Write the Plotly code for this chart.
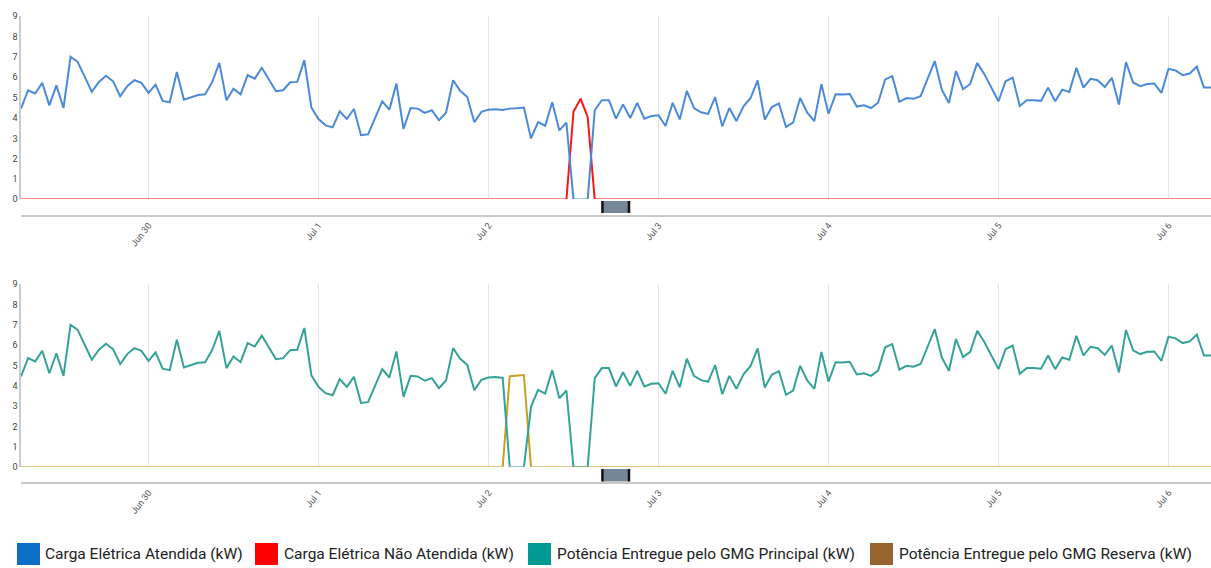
import pandas as pd
import plotly.graph_objects as go

# ---------------- DATA ----------------
inicio = "2024-06-29 06:00"
n_pontos = 169
horas = pd.date_range(inicio, periods=n_pontos, freq="h")

carga_atendida = [
    4.46, 5.36, 5.2, 5.72, 4.62, 5.6, 4.49, 7.0, 6.75, 6.02, 5.28, 5.77, 6.07, 5.8, 5.07, 5.56, 5.85, 5.72,
    5.23, 5.64, 4.84, 4.77, 6.26, 4.9, 5.03, 5.13, 5.16, 5.77, 6.7, 4.87, 5.44, 5.16, 6.1, 5.93, 6.46, 5.85,
    5.31, 5.36, 5.75, 5.77, 6.84, 4.51,
    3.95, 3.64, 3.54, 4.33, 3.95, 4.44, 3.16, 3.2, 4.05, 4.82, 4.41, 5.69, 3.46, 4.49, 4.46, 4.25, 4.38, 3.89,
    4.26, 5.85, 5.33, 5.03, 3.79, 4.3,
    4.41, 4.43, 4.39, 4.46, 4.48, 4.51, 3.0, 3.8, 3.62, 4.77, 3.39, 3.77, 0, 0, 0, 4.38, 4.87, 4.87,
    3.97, 4.67, 4.0, 4.74, 3.97, 4.1,
    4.13, 3.61, 4.74, 3.93, 5.33, 4.49, 4.28, 4.2, 5.02, 3.59, 4.49, 3.85, 4.57, 4.98, 5.84, 3.92, 4.54, 4.72,
    3.56, 3.77, 4.98, 4.26, 3.85, 5.66,
    4.21, 5.16, 5.15, 5.18, 4.56, 4.62, 4.49, 4.75, 5.89, 6.05, 4.79, 4.98, 4.94, 5.07, 5.93, 6.79, 5.39, 4.74,
    6.3, 5.41, 5.67, 6.7, 6.15, 5.52,
    4.82, 5.8, 5.98, 4.59, 4.87, 4.87, 4.84, 5.49, 4.82, 5.39, 5.28, 6.46, 5.49, 5.92, 5.85, 5.52, 5.97, 4.66,
    6.74, 5.74, 5.56, 5.67, 5.69, 5.23,
    6.41, 6.33, 6.1, 6.18, 6.52, 5.49, 5.49,
]

carga_nao_atendida = [
    0, 0, 0, 0, 0, 0, 0, 0, 0, 0, 0, 0, 0, 0, 0, 0, 0, 0,
    0, 0, 0, 0, 0, 0, 0, 0, 0, 0, 0, 0, 0, 0, 0, 0, 0, 0,
    0, 0, 0, 0, 0, 0,
    0, 0, 0, 0, 0, 0, 0, 0, 0, 0, 0, 0, 0, 0, 0, 0, 0, 0,
    0, 0, 0, 0, 0, 0,
    0, 0, 0, 0, 0, 0, 0, 0, 0, 0, 0, 0, 4.3, 4.95, 4.05, 0, 0, 0,
    0, 0, 0, 0, 0, 0,
    0, 0, 0, 0, 0, 0, 0, 0, 0, 0, 0, 0, 0, 0, 0, 0, 0, 0,
    0, 0, 0, 0, 0, 0,
    0, 0, 0, 0, 0, 0, 0, 0, 0, 0, 0, 0, 0, 0, 0, 0, 0, 0,
    0, 0, 0, 0, 0, 0,
    0, 0, 0, 0, 0, 0, 0, 0, 0, 0, 0, 0, 0, 0, 0, 0, 0, 0,
    0, 0, 0, 0, 0, 0,
    0, 0, 0, 0, 0, 0, 0,
]

gmg_principal = [
    4.46, 5.36, 5.2, 5.72, 4.62, 5.6, 4.49, 7.0, 6.75, 6.02, 5.28, 5.77, 6.07, 5.8, 5.07, 5.56, 5.85, 5.72,
    5.23, 5.64, 4.84, 4.77, 6.26, 4.9, 5.03, 5.13, 5.16, 5.77, 6.7, 4.87, 5.44, 5.16, 6.1, 5.93, 6.46, 5.85,
    5.31, 5.36, 5.75, 5.77, 6.84, 4.51,
    3.95, 3.64, 3.54, 4.33, 3.95, 4.44, 3.16, 3.2, 4.05, 4.82, 4.41, 5.69, 3.46, 4.49, 4.46, 4.25, 4.38, 3.89,
    4.26, 5.85, 5.33, 5.03, 3.79, 4.3,
    4.41, 4.43, 4.39, 0, 0, 0, 2.97, 3.8, 3.62, 4.77, 3.39, 3.77, 0, 0, 0, 4.38, 4.87, 4.87,
    3.97, 4.67, 4.0, 4.74, 3.97, 4.1,
    4.13, 3.61, 4.74, 3.93, 5.33, 4.49, 4.28, 4.2, 5.02, 3.59, 4.49, 3.85, 4.57, 4.98, 5.84, 3.92, 4.54, 4.72,
    3.56, 3.77, 4.98, 4.26, 3.85, 5.66,
    4.21, 5.16, 5.15, 5.18, 4.56, 4.62, 4.49, 4.75, 5.89, 6.05, 4.79, 4.98, 4.94, 5.07, 5.93, 6.79, 5.39, 4.74,
    6.3, 5.41, 5.67, 6.7, 6.15, 5.52,
    4.82, 5.8, 5.98, 4.59, 4.87, 4.87, 4.84, 5.49, 4.82, 5.39, 5.28, 6.46, 5.49, 5.92, 5.85, 5.52, 5.97, 4.66,
    6.74, 5.74, 5.56, 5.67, 5.69, 5.23,
    6.41, 6.33, 6.1, 6.18, 6.52, 5.49, 5.49,
]

gmg_reserva = [
    0, 0, 0, 0, 0, 0, 0, 0, 0, 0, 0, 0, 0, 0, 0, 0, 0, 0,
    0, 0, 0, 0, 0, 0, 0, 0, 0, 0, 0, 0, 0, 0, 0, 0, 0, 0,
    0, 0, 0, 0, 0, 0,
    0, 0, 0, 0, 0, 0, 0, 0, 0, 0, 0, 0, 0, 0, 0, 0, 0, 0,
    0, 0, 0, 0, 0, 0,
    0, 0, 0, 4.47, 4.5, 4.53, 0, 0, 0, 0, 0, 0, 0, 0, 0, 0, 0, 0,
    0, 0, 0, 0, 0, 0,
    0, 0, 0, 0, 0, 0, 0, 0, 0, 0, 0, 0, 0, 0, 0, 0, 0, 0,
    0, 0, 0, 0, 0, 0,
    0, 0, 0, 0, 0, 0, 0, 0, 0, 0, 0, 0, 0, 0, 0, 0, 0, 0,
    0, 0, 0, 0, 0, 0,
    0, 0, 0, 0, 0, 0, 0, 0, 0, 0, 0, 0, 0, 0, 0, 0, 0, 0,
    0, 0, 0, 0, 0, 0,
    0, 0, 0, 0, 0, 0, 0,
]

x_inicio = "2024-06-29 06:00"
x_fim = "2024-07-06 06:00"
tick_datas = ["2024-06-30", "2024-07-01", "2024-07-02", "2024-07-03",
              "2024-07-04", "2024-07-05", "2024-07-06"]
tick_rotulos = ["Jun 30", "Jul 1", "Jul 2", "Jul 3", "Jul 4", "Jul 5", "Jul 6"]
y_ticks = [0, 1, 2, 3, 4, 5, 6, 7, 8, 9]
y_rotulos = ["0", "1", "2", "3", "4", "5", "6", "7", "8", "9"]

marcador_inicio = "2024-07-02 16:05"
marcador_fim = "2024-07-02 19:50"

legenda_nomes = ["Carga Elétrica Atendida (kW)", "Carga Elétrica Não Atendida (kW)",
                 "Potência Entregue pelo GMG Principal (kW)", "Potência Entregue pelo GMG Reserva (kW)"]
legenda_cores = ["#0f6fc6", "#ff0000", "#009a94", "#9a6430"]

# ---------------- STYLE ----------------
W, H = 1211, 568
FONT = "Roboto"
cor_azul = "#4a8ad8"
cor_vermelho = "#ff1414"
cor_verde = "#35a298"
cor_ouro = "#c9a024"
Y_MIN = 0.03  # lines at zero sit on the plot edge (half clipped, as in the reference)
Y_MAX = 9


def py(p):
    return 1 - p / H


def px(p):
    return p / W


fig = go.Figure()

# top chart
fig.add_trace(go.Scatter(x=horas, y=carga_nao_atendida, mode="lines", name=legenda_nomes[1],
                         line=dict(color=cor_vermelho, width=2), xaxis="x", yaxis="y", showlegend=False))
fig.add_trace(go.Scatter(x=horas, y=carga_atendida, mode="lines", name=legenda_nomes[0],
                         line=dict(color=cor_azul, width=2), xaxis="x", yaxis="y", showlegend=False))
# bottom chart
fig.add_trace(go.Scatter(x=horas, y=gmg_reserva, mode="lines", name=legenda_nomes[3],
                         line=dict(color=cor_ouro, width=2), xaxis="x2", yaxis="y2", showlegend=False))
fig.add_trace(go.Scatter(x=horas, y=gmg_principal, mode="lines", name=legenda_nomes[2],
                         line=dict(color=cor_verde, width=2), xaxis="x2", yaxis="y2", showlegend=False))

x_dom = [px(21), 1]
xaxis_common = dict(
    domain=x_dom, range=[x_inicio, x_fim], anchor="free",
    tickmode="array", tickvals=tick_datas, ticktext=tick_rotulos, tickangle=-52,
    showgrid=True, gridcolor="#e6e6e6", gridwidth=1,
    showline=True, linecolor="#c9c9c9", linewidth=2,
    ticks="", zeroline=False, automargin=False,
    tickfont=dict(family=FONT, size=9, color="#555555"),
)
yaxis_common = dict(
    range=[Y_MIN, Y_MAX], tickmode="array",
    tickvals=[max(v, Y_MIN) for v in y_ticks], ticktext=y_rotulos,
    showgrid=False, zeroline=False,
    showline=True, linecolor="#cccccc", linewidth=1.5, ticks="", automargin=False,
    tickfont=dict(family=FONT, size=9, color="#444444"), fixedrange=True,
)

shapes = []
annotations = []
for (ytop, ybot) in [(201, 213), (469, 481.5)]:
    shapes.append(dict(type="rect", xref="x", yref="paper", x0=marcador_inicio, x1=marcador_fim,
                       y0=py(ybot), y1=py(ytop), fillcolor="#778797", line=dict(width=0), layer="above"))
    for xm in (marcador_inicio, marcador_fim):
        shapes.append(dict(type="line", xref="x", yref="paper", x0=xm, x1=xm,
                           y0=py(ybot), y1=py(ytop), line=dict(color="#111111", width=2.5), layer="above"))

# legend (HTML-style swatches below the charts)
sw_x = [17, 255, 528, 870]
tx_x = [43, 282, 555, 897]
for nome, cor, sx, tx in zip(legenda_nomes, legenda_cores, sw_x, tx_x):
    shapes.append(dict(type="rect", xref="paper", yref="paper", x0=px(sx), x1=px(sx + 23),
                       y0=py(565), y1=py(543), fillcolor=cor, line=dict(width=0)))
    annotations.append(dict(text=nome, xref="paper", yref="paper", x=px(tx), y=py(554),
                            xanchor="left", yanchor="middle", showarrow=False,
                            font=dict(family=FONT, size=15.5, color="#222222")))

fig.update_layout(
    width=W, height=H, template="none",
    margin=dict(l=0, r=0, t=0, b=0, pad=0),
    paper_bgcolor="white", plot_bgcolor="white",
    xaxis=dict(xaxis_common, position=py(215.7)),
    yaxis=dict(yaxis_common, domain=[py(199), py(16)], anchor="x"),
    xaxis2=dict(xaxis_common, position=py(483)),
    yaxis2=dict(yaxis_common, domain=[py(466.7), py(284)], anchor="x2"),
    shapes=shapes, annotations=annotations, showlegend=False,
    font=dict(family=FONT),
)

fig.write_html(
    "out.html",
    config={"displayModeBar": False},
    post_script="document.body.style.margin='0';document.body.style.overflow='hidden';",
)
